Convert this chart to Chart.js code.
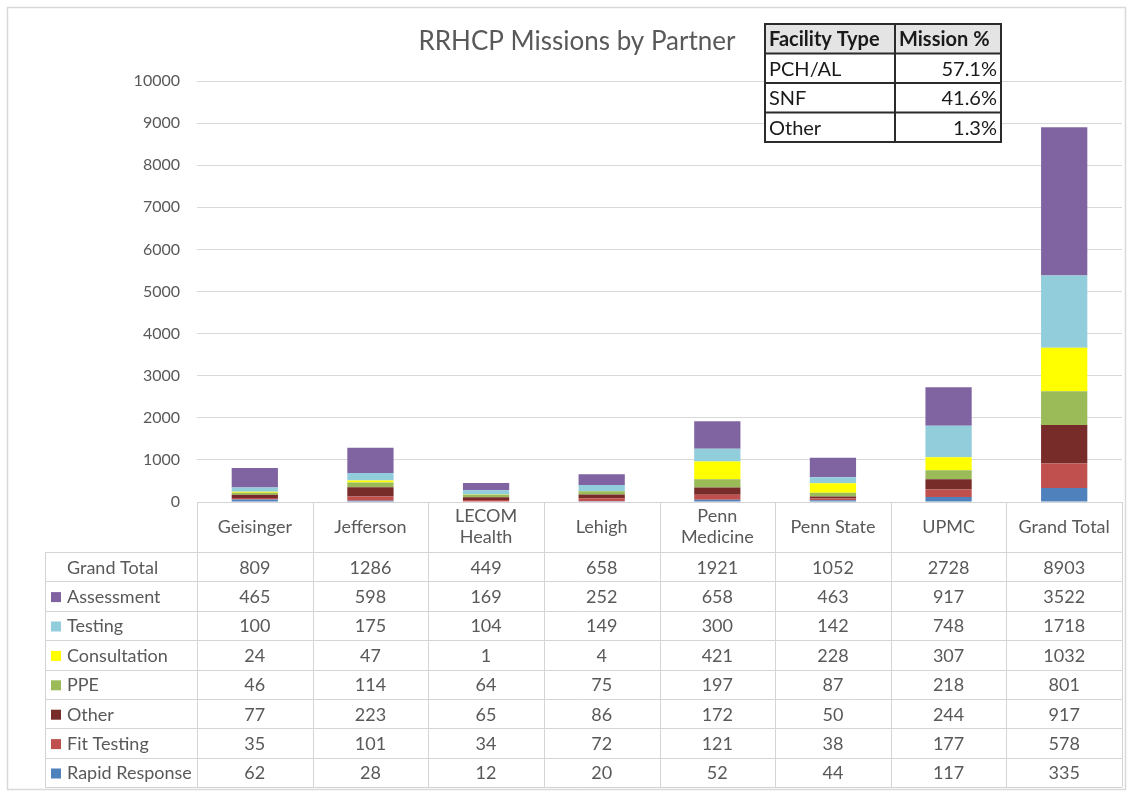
<!DOCTYPE html>
<html>
<head>
<meta charset="utf-8">
<title>RRHCP Missions by Partner</title>
<script src="https://cdn.jsdelivr.net/npm/chart.js@4/dist/chart.umd.min.js"></script>
<style>
    body{margin:0;background:#fff;}
    #wrap{width:1132px;height:792px;position:relative;}
</style>
</head>
<body>
<div id="wrap"><canvas id="missionsChart" width="1132" height="792"></canvas></div>
<script>
//init data
var partners = [['Geisinger'],['Jefferson'],['LECOM','Health'],['Lehigh'],['Penn','Medicine'],['Penn State'],['UPMC'],['Grand Total']];
var grandTotal = [809,1286,449,658,1921,1052,2728,8903];
var assessment = [465,598,169,252,658,463,917,3522];
var testing = [100,175,104,149,300,142,748,1718];
var consultation = [24,47,1,4,421,228,307,1032];
var ppe = [46,114,64,75,197,87,218,801];
var other = [77,223,65,86,172,50,244,917];
var fitTesting = [35,101,34,72,121,38,177,578];
var rapidResponse = [62,28,12,20,52,44,117,335];
var yTicks = [0,1000,2000,3000,4000,5000,6000,7000,8000,9000,10000];
var facilityTypes = ['PCH/AL','SNF','Other'];
var missionPct = ['57.1%','41.6%','1.3%'];

var FONT = 'Lato, "Open Sans", sans-serif';
var GREY = '#595959';

// bottom to top of the stack
var series = [
    {label:'Rapid Response', data:rapidResponse, color:'#4f81bd'},
    {label:'Fit Testing', data:fitTesting, color:'#c0504d'},
    {label:'Other', data:other, color:'#772c2a'},
    {label:'PPE', data:ppe, color:'#9bbb59'},
    {label:'Consultation', data:consultation, color:'#ffff00'},
    {label:'Testing', data:testing, color:'#92cddc'},
    {label:'Assessment', data:assessment, color:'#8064a2'}
];

//================================== PLUGINS =====================
var framePlugin = {
    id:'frame',
    beforeDraw:function(chart){
        var ctx = chart.ctx;
        ctx.save();
        ctx.strokeStyle = '#d9d9d9';
        ctx.lineWidth = 1.5;
        ctx.strokeRect(7.5,7.5,1118,782);
        ctx.restore();
    },
    afterDraw:function(chart){
        var ctx = chart.ctx;
        ctx.save();
        ctx.fillStyle = GREY;
        ctx.font = '26px ' + FONT;
        ctx.textAlign = 'center';
        ctx.textBaseline = 'middle';
        ctx.fillText('RRHCP Missions by Partner',577,42);
        ctx.restore();
    }
};

// data table under the bars, lined up with the x scale
var tablePlugin = {
    id:'dataTable',
    afterDraw:function(chart){
        var ctx = chart.ctx, area = chart.chartArea, xs = chart.scales.x;
        var n = partners.length, colW = area.width / n;
        var tableLeft = 45, headTop = area.bottom, headH = 50, rowH = 29.4;
        var bodyTop = headTop + headH;
        var rows = [{label:'Grand Total', data:grandTotal, color:null}];
        for(let i = series.length - 1;i >= 0;i--){
            rows.push({label:series[i].label, data:series[i].data, color:series[i].color});
        }
        var bottom = bodyTop + rows.length * rowH;

        ctx.save();
        ctx.strokeStyle = '#d4d4d4';
        ctx.lineWidth = 1;
        // horizontal lines
        ctx.beginPath();
        ctx.moveTo(area.left, headTop + 0.5);
        ctx.lineTo(area.right, headTop + 0.5);
        for(let r = 0;r <= rows.length;r++){
            var yy = Math.round(bodyTop + r * rowH) + 0.5;
            ctx.moveTo(tableLeft, yy);
            ctx.lineTo(area.right, yy);
        }
        // vertical lines
        ctx.moveTo(tableLeft + 0.5, bodyTop);
        ctx.lineTo(tableLeft + 0.5, bottom);
        for(let i = 0;i <= n;i++){
            var xx = Math.round(xs.getPixelForValue(0) - colW / 2 + i * colW) + 0.5;
            ctx.moveTo(xx, headTop);
            ctx.lineTo(xx, bottom);
        }
        ctx.stroke();

        ctx.fillStyle = GREY;
        ctx.font = '18px ' + FONT;
        ctx.textBaseline = 'middle';
        ctx.textAlign = 'center';
        // column headers
        partners.forEach((lbl,i)=>{
            var cx = xs.getPixelForValue(i);
            var cy = headTop + headH / 2 - (lbl.length - 1) * 10.5;
            lbl.forEach((line,k)=>{
                ctx.fillText(line, cx, cy + k * 21);
            });
        });
        // rows
        rows.forEach((row,r)=>{
            var cy = bodyTop + r * rowH + rowH / 2 + 1;
            ctx.textAlign = 'left';
            ctx.fillStyle = GREY;
            ctx.fillText(row.label, 67, cy);
            if(row.color){
                ctx.fillStyle = row.color;
                ctx.fillRect(51, cy - 5, 10, 10);
            }
            ctx.fillStyle = GREY;
            ctx.textAlign = 'center';
            row.data.forEach((v,i)=>{
                ctx.fillText(String(v), xs.getPixelForValue(i), cy);
            });
        });
        ctx.restore();
    }
};

// small facility type table in the top right corner
var facilityPlugin = {
    id:'facilityTable',
    afterDraw:function(chart){
        var ctx = chart.ctx;
        var left = 765, mid = 895, right = 1001, top = 24, rowH = 29.5;
        var bottom = top + rowH * (facilityTypes.length + 1);
        ctx.save();
        ctx.fillStyle = '#fff';
        ctx.fillRect(left, top, right - left, bottom - top);
        ctx.fillStyle = '#e4e4e4';
        ctx.fillRect(left, top, right - left, rowH);
        ctx.strokeStyle = '#2b2b2b';
        ctx.lineWidth = 2;
        ctx.strokeRect(left, top, right - left, bottom - top);
        ctx.beginPath();
        ctx.moveTo(mid, top);
        ctx.lineTo(mid, bottom);
        for(let r = 1;r <= facilityTypes.length;r++){
            ctx.moveTo(left, top + r * rowH);
            ctx.lineTo(right, top + r * rowH);
        }
        ctx.stroke();

        ctx.fillStyle = '#1a1a1a';
        ctx.textBaseline = 'middle';
        ctx.font = 'bold 20px ' + FONT;
        ctx.textAlign = 'left';
        ctx.fillText('Facility Type', left + 4, top + rowH / 2 + 1);
        ctx.fillText('Mission %', mid + 4, top + rowH / 2 + 1);
        ctx.font = '20px ' + FONT;
        facilityTypes.forEach((t,i)=>{
            var cy = top + (i + 1.5) * rowH + 1;
            ctx.textAlign = 'left';
            ctx.fillText(t, left + 4, cy);
            ctx.textAlign = 'right';
            ctx.fillText(missionPct[i], right - 4, cy);
        });
        ctx.restore();
    }
};

//================================== CHART =====================
var ctx = document.getElementById('missionsChart').getContext('2d');
var chart = new Chart(ctx, {
    type:'bar',
    data:{
        labels:partners,
        datasets:series.map(s=>({
            label:s.label,
            data:s.data,
            backgroundColor:s.color,
            borderWidth:0,
            categoryPercentage:1,
            barPercentage:0.4
        }))
    },
    options:{
        responsive:false,
        animation:false,
        layout:{padding:{top:81,right:10,bottom:290,left:0}},
        plugins:{
            legend:{display:false},
            title:{display:false},
            tooltip:{enabled:false}
        },
        scales:{
            x:{
                stacked:true,
                display:false
            },
            y:{
                stacked:true,
                min:0,
                max:10000,
                afterFit:function(scale){ scale.width = 197; },
                afterBuildTicks:function(scale){
                    scale.ticks = yTicks.map(v=>({value:v}));
                },
                border:{display:false},
                grid:{color:'#d9d9d9',lineWidth:1,drawTicks:false},
                ticks:{
                    color:GREY,
                    padding:17,
                    font:{family:FONT,size:16},
                    callback:function(v){ return String(v); }
                }
            }
        }
    },
    plugins:[framePlugin,tablePlugin,facilityPlugin]
});
</script>
</body>
</html>
